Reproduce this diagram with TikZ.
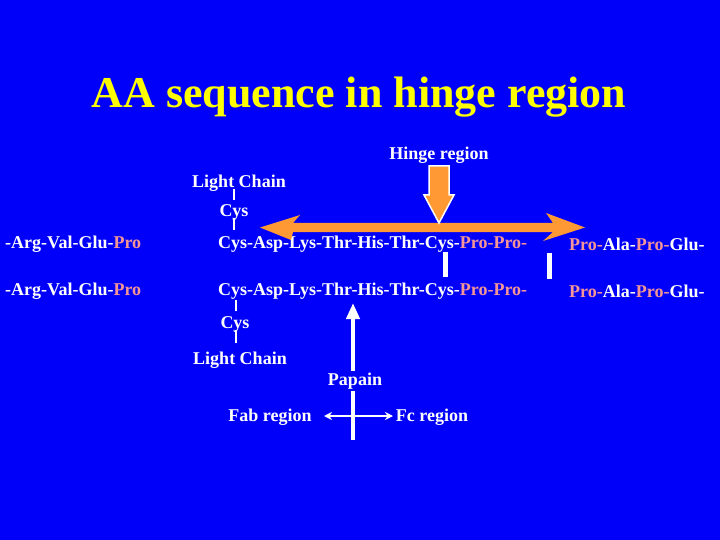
\documentclass[tikz,border=0pt]{standalone}
\usepackage{fontspec}
\setmainfont{Liberation Serif}
\usetikzlibrary{arrows.meta}
\definecolor{bgblue}{RGB}{0,0,250}
\definecolor{titley}{RGB}{255,255,0}
\definecolor{orng}{RGB}{255,153,51}
\definecolor{pro}{RGB}{245,150,150}
\begin{document}
\begin{tikzpicture}[x=1pt,y=-1pt,
  lbl/.style={text=white,font=\bfseries\fontsize{18}{21}\selectfont,inner sep=0pt},
  seq/.style={lbl,anchor=west},
  tick/.style={draw=white,line width=1.2pt},
  bar/.style={fill=white,draw=none}]
\fill[bgblue] (0,0) rectangle (720,540);
\useasboundingbox (0,0) rectangle (720,540);
% title
\node[text=titley,font=\bfseries\fontsize{44}{48}\selectfont,inner sep=0pt] (title) at (359,97) {AA sequence in hinge region};
% labels
\node[lbl] (hinge) at (439,155) {Hinge region};
\node[lbl] (lc1) at (239,183) {Light Chain};
\node[lbl] (cys1) at (234,212) {Cys};
\node[seq] (a1) at (5,244) {-Arg-Val-Glu-\textcolor{pro}{Pro}};
\node[seq] (b1) at (218,244) {Cys-Asp-Lys-Thr-His-Thr-Cys-\textcolor{pro}{Pro-Pro-}};
\node[seq] (c1) at (569,244) {\textcolor{pro}{Pro-}Ala-\textcolor{pro}{Pro-}Glu-};
\node[seq] (a2) at (5,291) {-Arg-Val-Glu-\textcolor{pro}{Pro}};
\node[seq] (b2) at (218,291) {Cys-Asp-Lys-Thr-His-Thr-Cys-\textcolor{pro}{Pro-Pro-}};
\node[seq] (c2) at (569,291) {\textcolor{pro}{Pro-}Ala-\textcolor{pro}{Pro-}Glu-};
\node[lbl] (cys2) at (235,324) {Cys};
\node[lbl] (lc2) at (240,360) {Light Chain};
% ticks
\coordinate (t1a) at (234,189); \coordinate (t1b) at (234,200);
\draw[tick] (t1a) -- (t1b);
\coordinate (t2a) at (234,218); \coordinate (t2b) at (234,230);
\draw[tick] (t2a) -- (t2b);
\coordinate (t3a) at (236,300); \coordinate (t3b) at (236,311);
\draw[tick] (t3a) -- (t3b);
\coordinate (t4a) at (236,330); \coordinate (t4b) at (236,343);
\draw[tick] (t4a) -- (t4b);
% white bars (disulfide bonds)
\fill[bar] (443,252) rectangle (448,277);
\fill[bar] (547,253) rectangle (552,279);
% orange double arrow
\fill[orng] (260,227.5) -- (300,215) -- (293,223) -- (553,223) -- (546,213) -- (585,227.5)
  -- (543,241) -- (553,232) -- (293,232) -- (291,240) -- cycle;
% hinge down arrow
\filldraw[fill=orng,draw=white,line width=1.5pt,line join=miter]
  (429,166) -- (449,166) -- (449,195) -- (454,195) -- (439,223) -- (424,195) -- (429,195) -- cycle;
% papain arrow
\coordinate (pbot) at (353,440);
\coordinate (ptop) at (353,303);
\draw[white,line width=4.5pt,-{Triangle[width=13pt,length=16pt]}] (pbot) -- (ptop);
\node[lbl,fill=bgblue,inner ysep=2pt,inner xsep=1pt] (papain) at (355,381) {Papain};
% fab / fc
\node[lbl] (fab) at (270,417) {Fab region};
\node[lbl] (fc) at (432,417) {Fc region};
\coordinate (fabend) at (324,416);
\coordinate (fcend) at (393,416);
\draw[white,line width=2pt,{Stealth[length=8pt,width=8pt]}-{Stealth[length=8pt,width=8pt]}] (fabend) -- (fcend);
\end{tikzpicture}
\end{document}
